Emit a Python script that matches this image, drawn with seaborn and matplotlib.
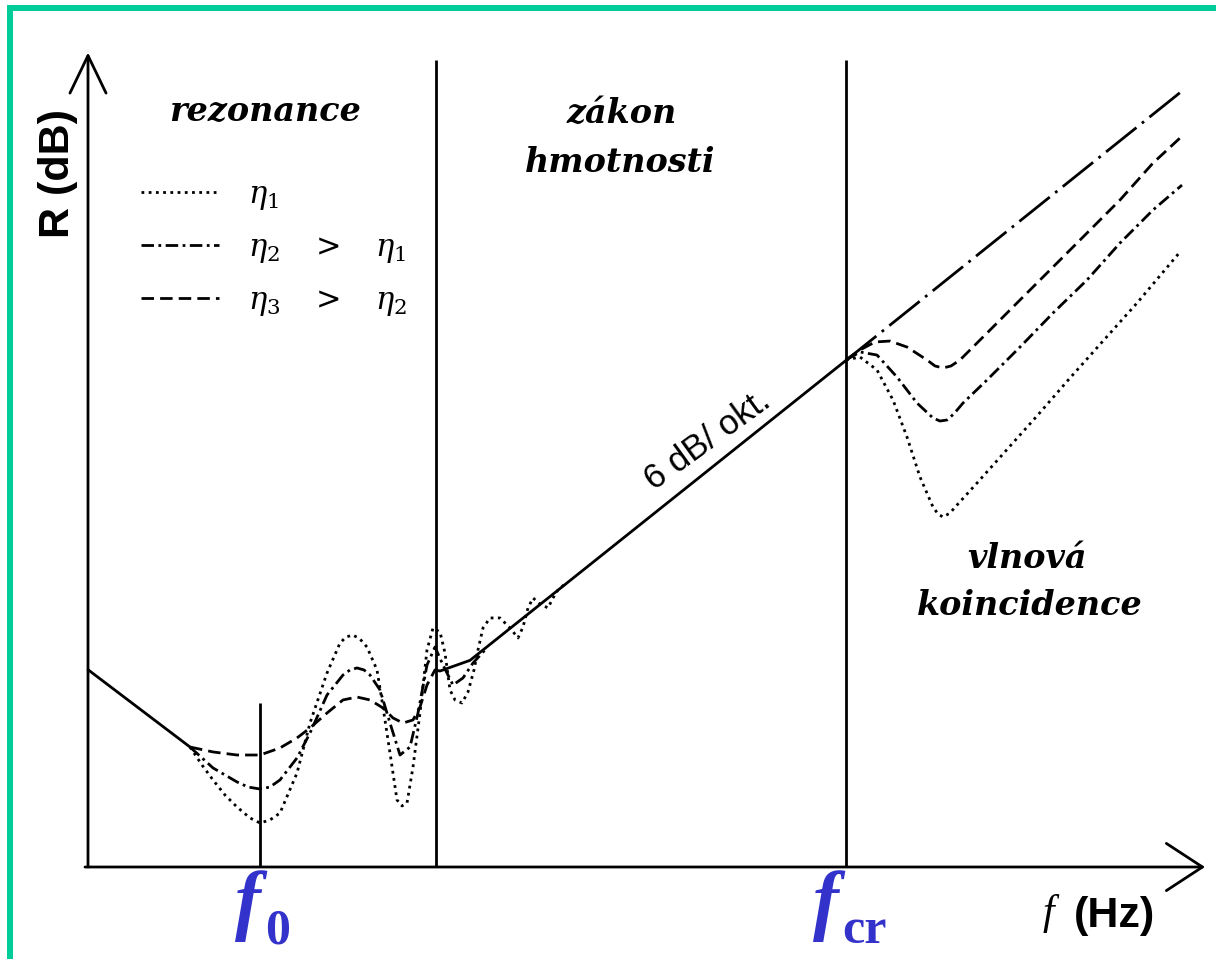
import matplotlib
matplotlib.use("Agg")
import matplotlib.pyplot as plt
import seaborn as sns
from matplotlib.lines import Line2D
from matplotlib.patches import Rectangle

sns.set_theme(style="white")
plt.rcParams["font.family"] = ["DejaVu Sans"]
plt.rcParams["mathtext.fontset"] = "dejavuserif"
plt.rcParams["text.color"] = "black"

# x: frequency in octaves above the origin, y: sound reduction index R (dB)

# stiffness-controlled part below the resonances
low_x = [0.00, 1.02]
low_y = [14.8, 9.0]

# mass law, 6 dB per octave, up to the critical frequency
mass_x = [3.52, 3.82, 7.58]
mass_y = [14.7, 15.5, 38.0]

# mass law continued above the critical frequency
mass_ext_x = [7.58, 10.94]
mass_ext_y = [38.0, 58.2]

# resonance region for the three loss factors
res1_x = [1.02, 1.14, 1.25, 1.37, 1.49, 1.62, 1.72, 1.82, 1.92, 2.09, 2.22, 2.39,
          2.52, 2.58, 2.65, 2.72, 2.79, 2.89, 2.95, 3.02, 3.09, 3.14, 3.19, 3.25,
          3.32, 3.39, 3.45, 3.52, 3.57, 3.62, 3.67, 3.74, 3.80, 3.86, 3.90, 3.95,
          4.02, 4.12, 4.22, 4.30, 4.35, 4.40, 4.45, 4.52, 4.60, 4.65, 4.70, 4.77]
res1_y = [9.00, 7.65, 6.53, 5.40, 4.50, 3.68, 3.30, 3.53, 4.05, 7.05, 10.80, 14.55,
          16.80, 17.25, 17.40, 17.10, 16.50, 14.78, 12.00, 8.55, 5.03, 4.58, 4.80, 7.50,
          11.55, 16.28, 17.93, 17.63, 16.05, 13.28, 12.53, 12.30, 13.13, 14.78, 16.28, 17.93,
          18.68, 18.68, 17.93, 17.18, 18.00, 19.43, 20.18, 19.73, 19.43, 20.18, 20.78, 21.23]

res2_x = [1.02, 1.25, 1.49, 1.60, 1.72, 1.82, 1.92, 2.09, 2.22, 2.39, 2.55, 2.62,
          2.69, 2.76, 2.82, 2.92, 3.02, 3.12, 3.22, 3.30, 3.39, 3.47, 3.55, 3.65,
          3.75, 3.85, 3.97]
res2_y = [9.00, 7.43, 6.38, 6.00, 5.85, 6.00, 6.53, 8.18, 10.05, 12.90, 14.40, 14.78,
          14.93, 14.78, 14.40, 13.28, 10.80, 8.40, 9.00, 11.55, 15.15, 16.50, 15.15, 13.65,
          14.18, 15.30, 16.28]

res3_x = [1.02, 1.25, 1.49, 1.72, 1.92, 2.09, 2.22, 2.39, 2.55, 2.69, 2.82, 2.95,
          3.05, 3.15, 3.25, 3.32, 3.39, 3.47, 3.52]
res3_y = [9.00, 8.63, 8.40, 8.40, 8.93, 9.68, 10.43, 11.55, 12.53, 12.75, 12.53, 11.93,
          11.18, 10.80, 11.03, 12.00, 13.65, 14.78, 14.70]

# coincidence dip above the critical frequency
coin1_x = [7.58, 7.72, 7.89, 8.05, 8.19, 8.32, 8.45, 8.50, 8.55, 8.62, 8.69, 8.89,
           9.15, 9.49, 9.82, 10.15, 10.49, 10.92]
coin1_y = [38.03, 38.25, 37.28, 35.03, 32.25, 29.25, 27.00, 26.48, 26.25, 26.55, 27.15, 28.80,
           30.98, 33.83, 36.68, 39.45, 42.30, 46.13]

coin2_x = [7.58, 7.72, 7.89, 8.09, 8.29, 8.45, 8.52, 8.59, 8.66, 8.75, 8.99, 9.32,
           9.65, 9.99, 10.32, 10.65, 10.94]
coin2_y = [38.03, 38.63, 38.40, 36.75, 34.80, 33.68, 33.45, 33.53, 34.00, 34.80, 36.53, 39.00,
           41.55, 44.03, 46.80, 49.28, 51.15]

coin3_x = [7.58, 7.72, 7.87, 8.02, 8.19, 8.39, 8.47, 8.55, 8.63, 8.72, 8.99, 9.32,
           9.65, 9.99, 10.32, 10.65, 10.92]
coin3_y = [38.03, 38.78, 39.38, 39.45, 39.00, 38.03, 37.58, 37.43, 37.58, 38.03, 40.05, 42.53,
           45.00, 47.55, 50.03, 52.80, 54.68]

# vertical markers: f0, end of resonance region, critical frequency
marker_x = [1.72, 3.48, 7.58]
marker_top = [12.3, 60.5, 60.5]

legend_labels = [r"$\eta_1$", r"$\eta_2\ \ \ >\ \ \ \eta_1$", r"$\eta_3\ \ \ >\ \ \ \eta_2$"]

LW = 2.0
DOT = (0, (1.0, 1.6))
DASHDOT = (0, (4.5, 1.6, 1.0, 1.6))
DASH = (0, (4.5, 2.2))
LONGDASHDOT = (0, (14, 2.5, 1.0, 2.5))
BLUE = "#3333CC"
GREEN = "#00CC99"

fig = plt.figure(figsize=(12.16, 9.59), dpi=100)
ax = fig.add_axes([0, 0, 1, 1])
ax.set_xlim(-0.88, 11.28)
ax.set_ylim(-6.9, 65.03)
ax.set_axis_off()


def curve(x, y, ls):
    sns.lineplot(x=x, y=y, ax=ax, color="black", lw=LW, linestyle=ls,
                 estimator=None, sort=False, legend=False)


curve(low_x, low_y, "-")
curve(mass_x, mass_y, "-")
curve(mass_ext_x, mass_ext_y, LONGDASHDOT)
curve(res1_x, res1_y, DOT)
curve(res2_x, res2_y, DASHDOT)
curve(res3_x, res3_y, DASH)
curve(coin1_x, coin1_y, DOT)
curve(coin2_x, coin2_y, DASHDOT)
curve(coin3_x, coin3_y, DASH)

ax.vlines(marker_x, 0, marker_top, color="black", lw=2.0)

# axes with open arrow heads
ax.annotate("", xy=(0, 61.1), xytext=(0, 0),
            arrowprops=dict(arrowstyle="->,head_length=1.35,head_width=0.65",
                            mutation_scale=20, lw=2.0, color="black",
                            shrinkA=0, shrinkB=0))
ax.annotate("", xy=(11.17, 0), xytext=(-0.03, 0),
            arrowprops=dict(arrowstyle="->,head_length=1.3,head_width=0.85",
                            mutation_scale=20, lw=2.0, color="black",
                            shrinkA=0, shrinkB=0))

handles = [Line2D([], [], color="black", lw=LW, linestyle=s) for s in (DOT, DASHDOT, DASH)]
leg = ax.legend(handles, legend_labels, loc="upper left",
                bbox_to_anchor=(141 / 1216, 1 - 180 / 959), frameon=False,
                fontsize=22, handlelength=2.55, handletextpad=0.95, labelspacing=0.68,
                borderpad=0, borderaxespad=0)
for t in leg.get_texts():
    t.set_color("black")

region_font = dict(family="DejaVu Serif", weight="bold", style="italic", fontsize=24,
                   ha="center", va="baseline", color="black")
ax.text(1.77, 55.95, "rezonance", **region_font)
ax.text(5.34, 55.8, "zákon", **region_font)
ax.text(5.32, 52.13, "hmotnosti", **region_font)
ax.text(9.39, 22.43, "vlnová", **region_font)
ax.text(9.42, 18.9, "koincidence", **region_font)

ax.text(6.20, 32.0, "6 dB/ okt.", family="Liberation Sans", fontsize=25,
        color="black", rotation=36, rotation_mode="anchor", ha="center", va="center")

ax.text(-0.30, 52.05, "R (dB)", family="Liberation Sans", weight="bold", fontsize=31,
        color="black", rotation=90, ha="center", va="center")
ax.text(9.60, -4.28, "f", family="Liberation Serif", style="italic", fontsize=30,
        color="black", ha="center", va="baseline")
ax.text(10.27, -4.5, "(Hz)", family="Liberation Sans", weight="bold", fontsize=31,
        color="black", ha="center", va="baseline")

blue_f = dict(family="Liberation Serif", weight="bold", style="italic", fontsize=56,
              color=BLUE, ha="center", va="baseline")
blue_sub = dict(family="Liberation Serif", weight="bold", fontsize=36,
                color=BLUE, ha="center", va="baseline")
ax.text(1.60, -4.35, "f", **blue_f)
ax.text(1.90, -5.7, "0", **blue_sub)
ax.text(7.38, -4.35, "f", **blue_f)
ax.text(7.76, -5.7, "cr", **blue_sub)

fig.add_artist(Rectangle((9.5 / 1216, -0.1), 1.2, 1.1 - 8 / 959,
                         transform=fig.transFigure, fill=False,
                         edgecolor=GREEN, lw=4.3, clip_on=False))

fig.savefig("out.png", dpi=100)
